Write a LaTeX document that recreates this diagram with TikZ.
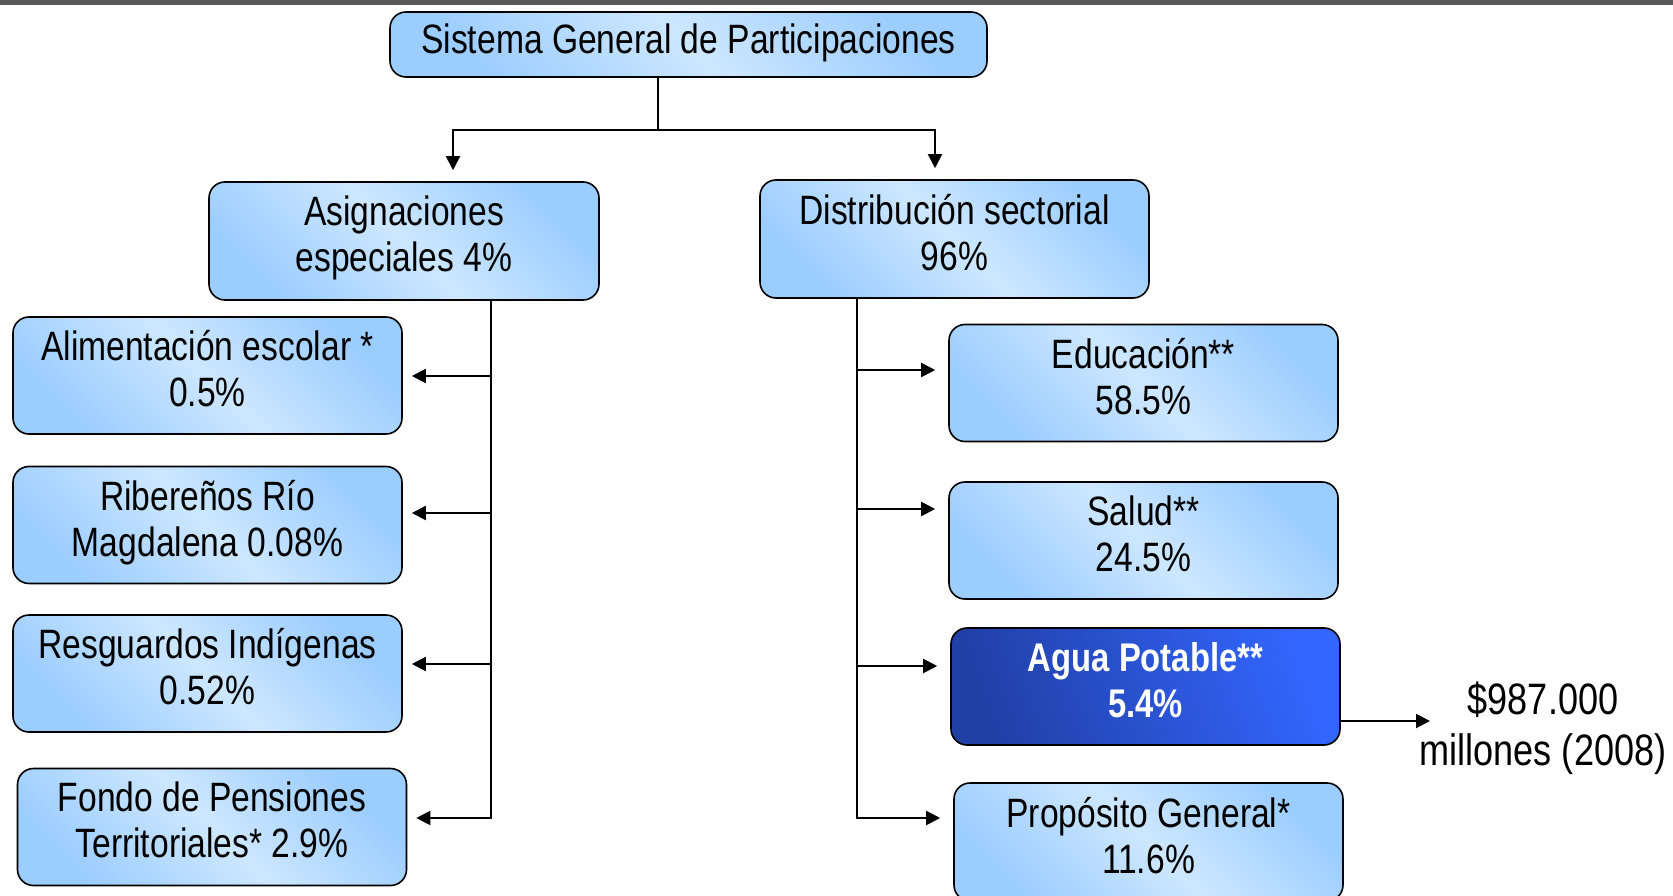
\documentclass[tikz,border=0pt]{standalone}
\usepackage{fontspec}
\setmainfont[FakeStretch=0.82]{Liberation Sans}
\usetikzlibrary{arrows.meta}

\definecolor{boxlight}{HTML}{CDE7FF}
\definecolor{boxdark}{HTML}{9BCDFF}
\definecolor{aguadark}{HTML}{2140A6}
\definecolor{aguabright}{HTML}{3366FF}
\definecolor{topbar}{HTML}{595959}

\tikzset{
  box/.style={draw, line width=1.6pt, rounded corners=16pt,
    minimum width=389pt, minimum height=117pt, align=center, inner sep=4pt,
    left color=boxdark, right color=boxdark, middle color=boxlight,
    shading angle=135, font=\fontsize{41}{46}\selectfont,
    execute at end node=\strut},
  aguabox/.style={box, left color=aguadark, right color=aguabright,
    shading angle=110, text=white, font=\fontsize{40}{46}\bfseries\selectfont},
  link/.style={line width=2pt},
  arr/.style={link, -{Triangle[length=14pt,width=14pt]}}
}

\begin{document}
\begin{tikzpicture}[x=1pt, y=-1pt]
  \useasboundingbox (0,0) rectangle (1673,896);
  \fill[topbar] (0,0) rectangle (1673,5);

  % Top level
  \node[box, minimum width=597pt, minimum height=65pt] (sgp) at (688.5,44.5)
    {Sistema General de Participaciones};

  % Second level
  \node[box, minimum width=390pt, minimum height=118pt] (asig) at (404,241)
    {Asignaciones\\especiales 4\%};
  \node[box, minimum height=118pt] (dist) at (954.5,239)
    {Distribución sectorial\\96\%};

  \coordinate (split) at (658,130);
  \draw[link] (sgp.south -| split) -- (split);
  \draw[arr, shorten >=11pt] (split) -| ([xshift=49pt]asig.north);
  \draw[arr, shorten >=11pt] (split) -| ([xshift=-19.5pt]dist.north);

  % Asignaciones especiales
  \node[box] (alim) at (207.5,375.5) {Alimentación escolar *\\0.5\%};
  \node[box] (rib) at (207.5,525) {Ribereños Río\\Magdalena 0.08\%};
  \node[box] (resg) at (207.5,673.5) {Resguardos Indígenas\\0.52\%};
  \node[box] (fondo) at (212,827) {Fondo de Pensiones\\Territoriales* 2.9\%};

  \coordinate (lbus) at (491,300);
  \foreach \n/\y in {alim/376, rib/513, resg/664}
    \draw[arr, shorten >=9pt] (lbus |- 0,\y) -- (\n.east |- 0,\y);
  \draw[arr, shorten >=9pt] (asig.south -| lbus) |- (fondo.east |- 0,818);

  % Distribucion sectorial
  \node[box] (edu) at (1143.5,383) {Educación**\\58.5\%};
  \node[box] (salud) at (1143.5,540.5) {Salud**\\24.5\%};
  \node[aguabox] (agua) at (1145.5,686.5) {Agua Potable**\\5.4\%};
  \node[box, minimum height=118pt] (prop) at (1148.5,842) {Propósito General*\\11.6\%};

  \coordinate (rbus) at (857,298);
  \foreach \n/\y in {edu/370, salud/509, agua/666}
    \draw[arr, shorten >=13pt] (rbus |- 0,\y) -- (\n.west |- 0,\y);
  \draw[arr, shorten >=13pt] (dist.south -| rbus) |- (prop.west |- 0,818);

  % Monto agua potable
  \coordinate (mtip) at (1430,721);
  \draw[arr] (agua.east |- mtip) -- (mtip);
  \node[align=center, font=\fontsize{44}{51}\selectfont] (monto) at (1543,728)
    {\$987.000\\millones (2008)};
\end{tikzpicture}
\end{document}
